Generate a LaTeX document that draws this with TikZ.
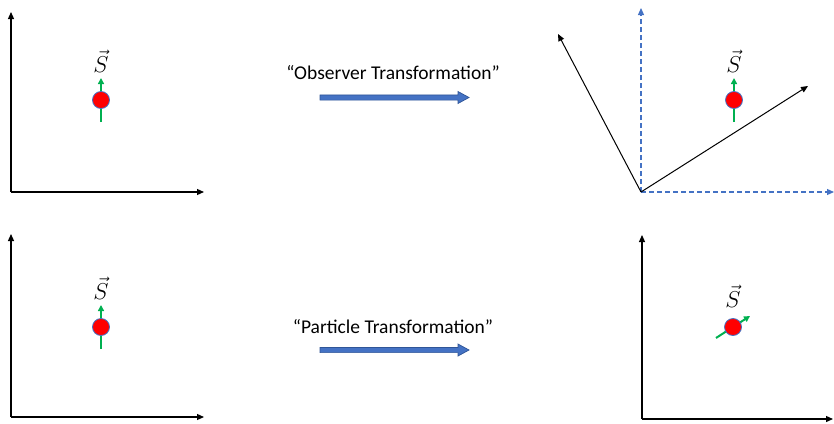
\RequirePackage{fix-cm}
\documentclass[tikz,border=0pt]{standalone}
\usepackage{fontspec}
\setmainfont{Carlito}
\usetikzlibrary{arrows.meta}
\definecolor{axblue}{HTML}{4472C4}
\definecolor{axbluedark}{HTML}{2F5597}
\definecolor{spingreen}{HTML}{00B050}
\tikzset{
  axis/.style={line width=1.2pt,-{Triangle[length=7pt,width=6pt]}},
  dashaxis/.style={axblue,line width=1.2pt,dash pattern=on 5pt off 3pt,-{Triangle[length=7pt,width=6pt]}},
  particle/.style={circle,fill=red,draw=axblue,line width=0.8pt,minimum size=17pt,inner sep=0pt},
  spin/.style={spingreen,line width=2pt,-{Triangle[length=6pt,width=6pt]}},
  slabel/.style={font=\fontsize{23}{25}\selectfont,inner sep=0pt},
  ttext/.style={font=\fontsize{19.5}{22}\selectfont},
  bigarrow/.style={fill=axblue,draw=axbluedark,line width=0.7pt,line join=miter}
}
\newcommand{\blockarrow}[2]{% #1 = left x, #2 = centre y
  \draw[bigarrow] (#1,#2-2.6) -- (#1+138,#2-2.6) -- (#1+138,#2-6) -- (#1+149,#2) -- (#1+138,#2+6) -- (#1+138,#2+2.6) -- (#1,#2+2.6) -- cycle;}
\begin{document}
\begin{tikzpicture}[x=1pt,y=-1pt]
\useasboundingbox (0,0) rectangle (834,423);
% top-left
\coordinate (o1) at (11,192);
\coordinate (y1) at (11,12);
\coordinate (x1) at (204,192);
\draw[axis] (o1) -- (y1);
\draw[axis] (o1) -- (x1);
\coordinate (s1a) at (101,122);
\coordinate (s1b) at (101,78);
\draw[spin] (s1a) -- (s1b);
\node[particle] (p1) at (101,100) {};
\node[slabel] (l1) at (101,61) {$\vec{S}$};
% top arrow
\node[ttext] (t1) at (393,73) {“Observer Transformation”};
\blockarrow{320}{97.5}
% top-right
\coordinate (o2) at (641,192);
\coordinate (y2d) at (641,8);
\coordinate (x2d) at (834,192);
\coordinate (y2) at (558,34);
\coordinate (x2) at (808,86);
\draw[dashaxis] (o2) -- (y2d);
\draw[dashaxis] (o2) -- (x2d);
\draw[axis,line width=1pt] (o2) -- (y2);
\draw[axis,line width=1pt] (o2) -- (x2);
\coordinate (s2a) at (734,122);
\coordinate (s2b) at (734,78);
\draw[spin] (s2a) -- (s2b);
\node[particle] (p2) at (734,100) {};
\node[slabel] (l2) at (734,61) {$\vec{S}$};
% bottom-left
\coordinate (o3) at (11,417);
\coordinate (y3) at (11,234);
\coordinate (x3) at (204,417);
\draw[axis] (o3) -- (y3);
\draw[axis] (o3) -- (x3);
\coordinate (s3a) at (101,349);
\coordinate (s3b) at (101,305);
\draw[spin] (s3a) -- (s3b);
\node[particle] (p3) at (101,327) {};
\node[slabel] (l3) at (101,288) {$\vec{S}$};
% bottom arrow
\node[ttext] (t2) at (393,327) {“Particle Transformation”};
\blockarrow{320}{350}
% bottom-right
\coordinate (o4) at (642,419);
\coordinate (y4) at (642,235);
\coordinate (x4) at (833,419);
\draw[axis] (o4) -- (y4);
\draw[axis] (o4) -- (x4);
\coordinate (s4a) at (716,338);
\coordinate (s4b) at (750,316);
\draw[spin] (s4a) -- (s4b);
\node[particle] (p4) at (733,327) {};
\node[slabel] (l4) at (733,296) {$\vec{S}$};
\end{tikzpicture}
\end{document}
